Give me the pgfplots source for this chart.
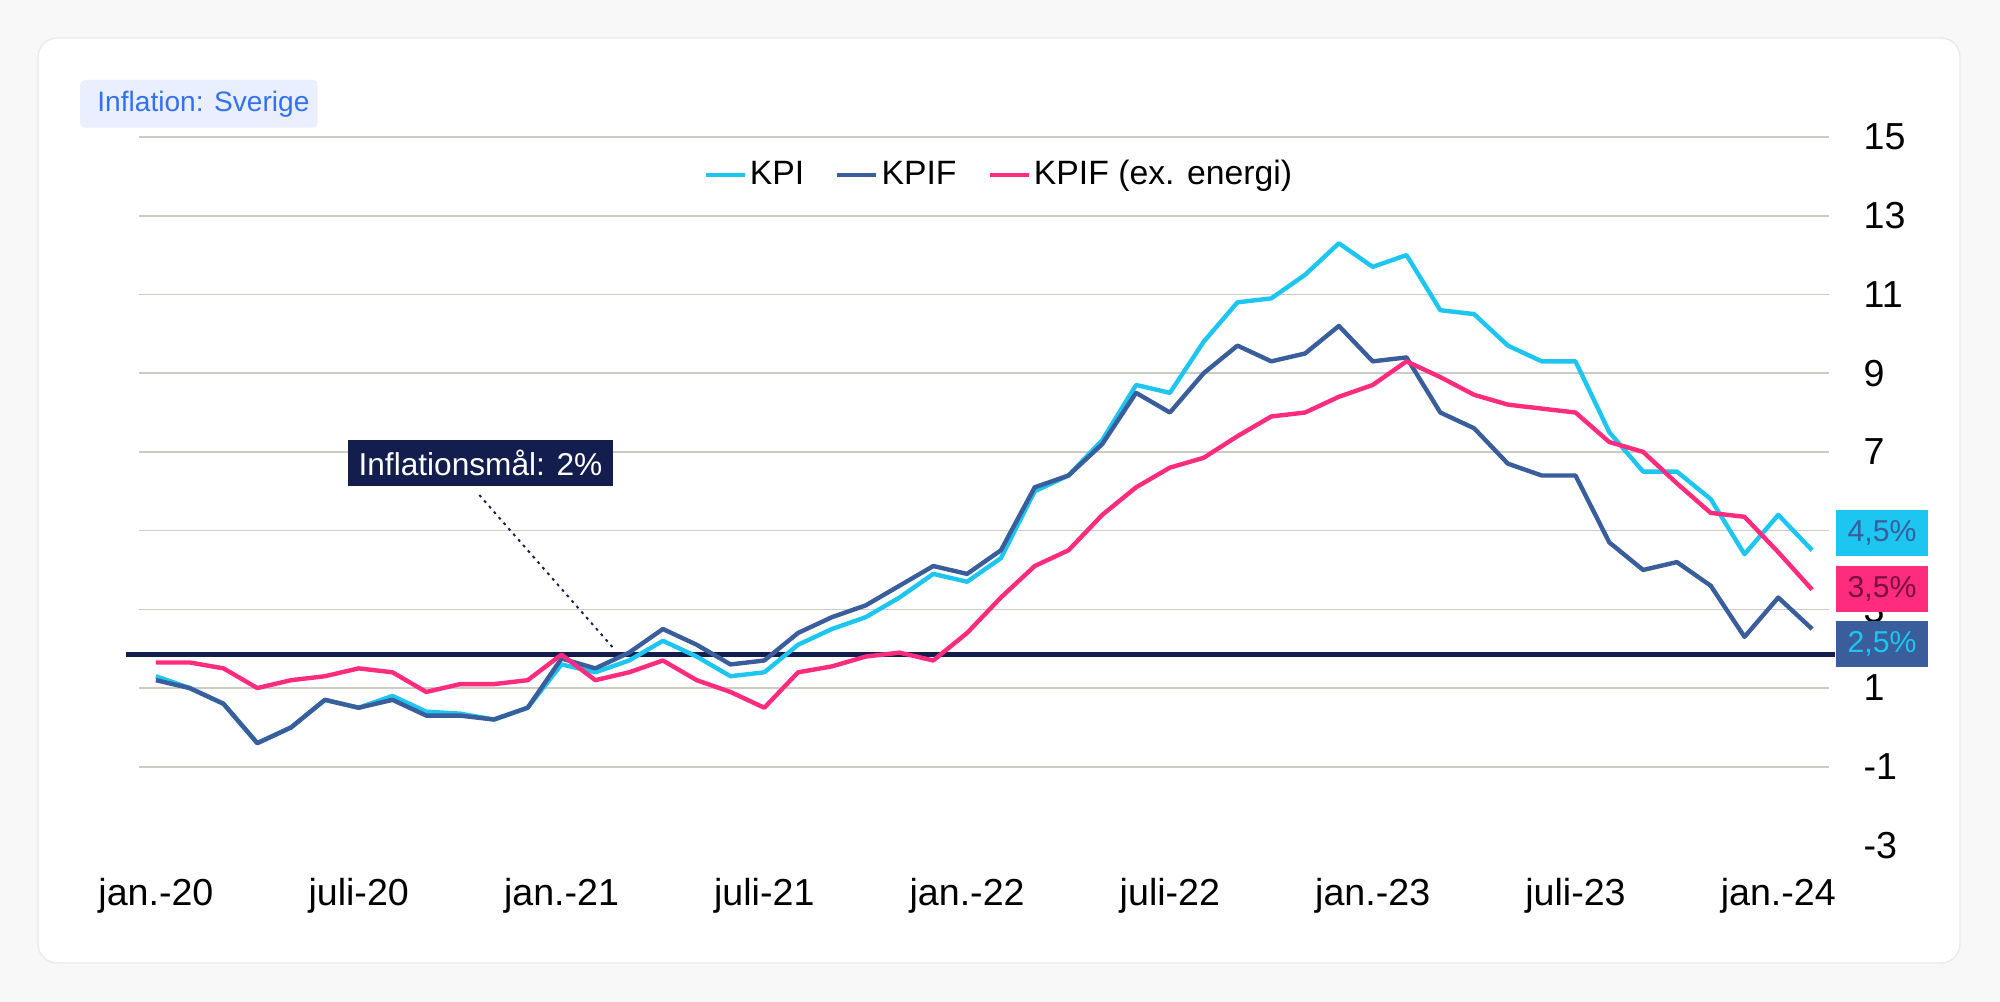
\documentclass[border=0pt]{standalone}
\usepackage{fontspec}
\setmainfont{Liberation Sans}
\usepackage{pgfplots}
\usepackage{pgfplotstable}
\pgfplotsset{compat=1.18}
\definecolor{kpi}{HTML}{1CC6F0}
\definecolor{kpif}{HTML}{3A5D9C}
\definecolor{kpixe}{HTML}{FF2C7D}
\definecolor{navy}{HTML}{131D4E}
\definecolor{gridc}{HTML}{CBCBC3}
\definecolor{badgebg}{HTML}{E9EFFF}
\definecolor{badgetx}{HTML}{3570F4}
\definecolor{bgout}{HTML}{F8F8F8}
\definecolor{cardb}{HTML}{EAEAEA}
\definecolor{pinktx}{HTML}{7A0E3C}

\pgfplotstableread{
m kpi kpif xe
0 1.3 1.2 1.65
1 1.0 1.0 1.65
2 0.6 0.6 1.5
3 -0.4 -0.4 1.0
4 0.0 0.0 1.2
5 0.7 0.7 1.3
6 0.5 0.5 1.5
7 0.8 0.7 1.4
8 0.4 0.3 0.9
9 0.35 0.3 1.1
10 0.2 0.2 1.1
11 0.5 0.5 1.2
12 1.6 1.75 1.85
13 1.4 1.5 1.2
14 1.7 1.9 1.4
15 2.2 2.5 1.7
16 1.8 2.1 1.2
17 1.3 1.6 0.9
18 1.4 1.7 0.5
19 2.1 2.4 1.4
20 2.5 2.8 1.55
21 2.8 3.1 1.8
22 3.3 3.6 1.9
23 3.9 4.1 1.7
24 3.7 3.9 2.4
25 4.3 4.5 3.3
26 6.0 6.1 4.1
27 6.4 6.4 4.5
28 7.3 7.2 5.4
29 8.7 8.5 6.1
30 8.5 8.0 6.6
31 9.8 9.0 6.85
32 10.8 9.7 7.4
33 10.9 9.3 7.9
34 11.5 9.5 8.0
35 12.3 10.2 8.4
36 11.7 9.3 8.7
37 12.0 9.4 9.3
38 10.6 8.0 8.9
39 10.5 7.6 8.45
40 9.7 6.7 8.2
41 9.3 6.4 8.1
42 9.3 6.4 8.0
43 7.5 4.7 7.25
44 6.5 4.0 7.0
45 6.5 4.2 6.2
46 5.8 3.6 5.45
47 4.4 2.3 5.35
48 5.4 3.3 4.45
49 4.5 2.5 3.5
}\data

\begin{document}
\begin{tikzpicture}
\fill[bgout] (0mm,0mm) rectangle (200mm,100.2mm);
\draw[cardb, fill=white, rounded corners=1.9mm, line width=0.4pt] (3.8mm,3.9mm) rectangle (196mm,96.4mm);
\fill[badgebg, rounded corners=0.5mm] (8.0mm,87.43mm) rectangle (31.77mm,92.2mm);
\node[anchor=west, inner sep=0pt, text=badgetx, font=\fontsize{8}{9}\selectfont] at (9.67mm,89.8mm) {Inflation: Sverige};
\begin{axis}[
  at={(13.9mm,15.65mm)}, anchor=south west,
  scale only axis, width=169mm, height=70.85mm,
  xmin=-0.5, xmax=49.5, ymin=-3, ymax=15,
  clip=false,
  axis line style={draw=none},
  major tick length=0pt,
  xtick={0,6,...,48},
  xticklabels={jan.-20,juli-20,jan.-21,juli-21,jan.-22,juli-22,jan.-23,juli-23,jan.-24},
  xticklabel style={anchor=base, inner sep=0pt, yshift=-6.05mm, font=\fontsize{10.7}{12}\selectfont},
  ytick={-1,1,3,5,7,9,11,13,15},
  yticklabels={-1,1,3,5,7,9,11,13,15},
  extra y ticks={-3},
  extra y tick labels={-3},
  extra y tick style={grid=none},
  yticklabel pos=right,
  yticklabel style={anchor=west, inner sep=0pt, xshift=3.4mm, font=\fontsize{10.7}{12}\selectfont},
  ymajorgrids,
  major grid style={gridc, line width=0.45pt},
  legend style={at={(0.509,0.946)}, anchor=center, draw=none, fill=none,
    legend columns=3, font=\fontsize{9.6}{11}\selectfont,
    /tikz/every even column/.append style={column sep=2.8mm},
    nodes={inner sep=0.3mm}},
  legend image code/.code={\draw[#1] (0mm,0mm) -- (3.9mm,0mm);},
]
\addplot[navy, line width=1.6pt, forget plot] coordinates {(-0.89,1.85) (49.67,1.85)};
\addplot[kpi, line width=1.25pt, line join=round] table[x=m, y=kpi] {\data};
\addlegendentry{KPI}
\addplot[kpif, line width=1.25pt, line join=round] table[x=m, y=kpif] {\data};
\addlegendentry{KPIF}
\addplot[kpixe, line width=1.25pt, line join=round] table[x=m, y=xe] {\data};
\addlegendentry{KPIF (ex. energi)}
\end{axis}
% annotation
\draw[navy, line width=0.55pt, dash pattern=on 0.8pt off 1.3pt] (47.93mm,50.7mm) -- (61.5mm,35.2mm);
\node[fill=navy, text=white, inner sep=0pt, minimum width=26.5mm, minimum height=4.57mm, font=\fontsize{9}{10}\selectfont] at (48.05mm,53.91mm) {Inflationsmål: 2\%};
% end labels
\node[fill=kpi, text=kpif, inner sep=0pt, minimum width=9.2mm, minimum height=4.6mm, font=\fontsize{8.6}{10}\selectfont] at (188.2mm,46.9mm) {4,5\%};
\node[fill=kpixe, text=pinktx, inner sep=0pt, minimum width=9.2mm, minimum height=4.6mm, font=\fontsize{8.6}{10}\selectfont] at (188.2mm,41.32mm) {3,5\%};
\node[fill=kpif, text=kpi, inner sep=0pt, minimum width=9.2mm, minimum height=4.6mm, font=\fontsize{8.6}{10}\selectfont] at (188.2mm,35.77mm) {2,5\%};
\end{tikzpicture}
\end{document}
